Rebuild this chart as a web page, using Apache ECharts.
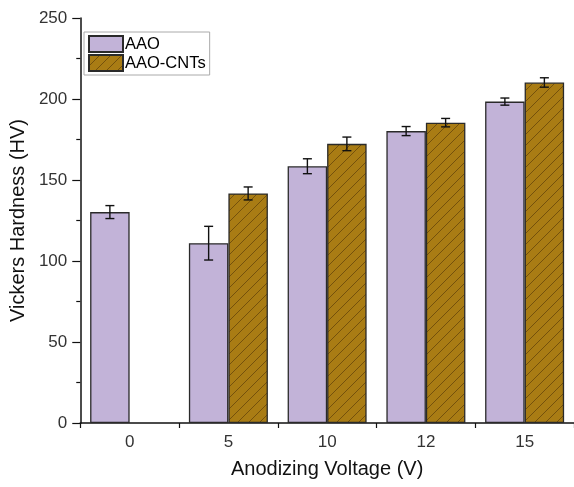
<!DOCTYPE html>
<html><head><meta charset="utf-8">
<script src="https://cdn.jsdelivr.net/npm/echarts@6/dist/echarts.min.js"></script>
<style>html,body{margin:0;padding:0;background:#fff}#c{width:574px;height:487px}</style>
</head><body><div id="c"></div>
<script>
const categories = ['0', '5', '10', '12', '15'];
const aaoValues = [130.2, 111, 158.5, 180.2, 198.4];
const aaoErrors = [4, 10.4, 4.6, 2.8, 2.2];
const cntValues = [null, 141.7, 172.3, 185.4, 210.2];
const cntErrors = [null, 4, 4.2, 2.6, 2.9];
const yTicks = [0, 50, 100, 150, 200, 250];

function hatch() {
  const c = document.createElement('canvas');
  c.width = 11; c.height = 11;
  const g = c.getContext('2d');
  g.fillStyle = '#a97c14';
  g.fillRect(0, 0, 11, 11);
  g.strokeStyle = 'rgba(70,45,5,0.6)';
  g.lineWidth = 0.9;
  g.beginPath();
  g.moveTo(-2, 13); g.lineTo(13, -2);
  g.moveTo(-8, 8); g.lineTo(8, -8);
  g.moveTo(3, 19); g.lineTo(19, 3);
  g.stroke();
  return c;
}
const pat = { image: hatch(), repeat: 'repeat' };

function errSeries(vals, errs, side) {
  const data = vals.map((v, i) => v == null ? null : [i, v - errs[i], v + errs[i]]).filter(d => d);
  return {
    type: 'custom', z: 10, silent: true,
    data: data,
    renderItem: function (params, api) {
      const i = api.value(0);
      const lo = api.coord([i, api.value(1)]);
      const hi = api.coord([i, api.value(2)]);
      const bw = api.size([1, 0])[0] * 0.4;
      const x = lo[0] + side * bw / 2;
      const cap = 4.5;
      const st = { stroke: '#111', lineWidth: 1.4, fill: null };
      return { type: 'group', children: [
        { type: 'line', shape: { x1: x, y1: lo[1], x2: x, y2: hi[1] }, style: st },
        { type: 'line', shape: { x1: x - cap, y1: lo[1], x2: x + cap, y2: lo[1] }, style: st },
        { type: 'line', shape: { x1: x - cap, y1: hi[1], x2: x + cap, y2: hi[1] }, style: st }
      ]};
    }
  };
}

const chart = echarts.init(document.getElementById('c'));
chart.setOption({
  animation: false,
  textStyle: { fontFamily: 'Liberation Sans, Arial, sans-serif' },
  grid: { left: 79, top: 18, bottom: 64, right: -8.5 },
  legend: {
    left: 84, top: 32, orient: 'vertical', icon: 'rect',
    itemWidth: 34, itemHeight: 16, itemGap: 1,
    padding: [3, 4, 3, 4],
    borderColor: '#aaa', borderWidth: 1,
    textStyle: { fontSize: 16.5, color: '#000', padding: [0, 0, 0, -3] },
    data: ['AAO', 'AAO-CNTs']
  },
  xAxis: {
    type: 'category', data: categories,
    name: 'Anodizing Voltage (V)', nameLocation: 'middle', nameGap: 36,
    nameTextStyle: { fontSize: 20, color: '#111' },
    axisLine: { lineStyle: { color: '#111', width: 1.5 } },
    axisTick: { show: true, length: 5, inside: false, lineStyle: { color: '#111', width: 1.2 } },
    axisLabel: { fontSize: 17, color: '#333', margin: 11 }
  },
  yAxis: {
    type: 'value', min: 0, max: 250, interval: 50,
    name: 'Vickers Hardness (HV)', nameLocation: 'middle', nameGap: 49,
    nameTextStyle: { fontSize: 20, color: '#111' },
    axisLine: { show: true, lineStyle: { color: '#111', width: 1.5 } },
    axisTick: { show: true, length: 8, lineStyle: { color: '#111', width: 1.2 } },
    minorTick: { show: true, splitNumber: 2, length: 4, lineStyle: { color: '#111', width: 1.2 } },
    splitLine: { show: false },
    axisLabel: { fontSize: 17, color: '#333', margin: 13,
      formatter: v => yTicks.includes(v) ? String(v) : '' }
  },
  series: [
    { name: 'AAO', type: 'bar', data: aaoValues, barWidth: '40%', barGap: '0%',
      itemStyle: { color: '#c2b3d8', borderColor: '#2a2a2a', borderWidth: 1.3 } },
    { name: 'AAO-CNTs', type: 'bar', data: cntValues, barWidth: '40%', barGap: '0%',
      itemStyle: { color: pat, borderColor: '#2a2a2a', borderWidth: 1.3 } },
    errSeries(aaoValues, aaoErrors, -1),
    errSeries(cntValues, cntErrors, 1)
  ]
});
</script></body></html>
